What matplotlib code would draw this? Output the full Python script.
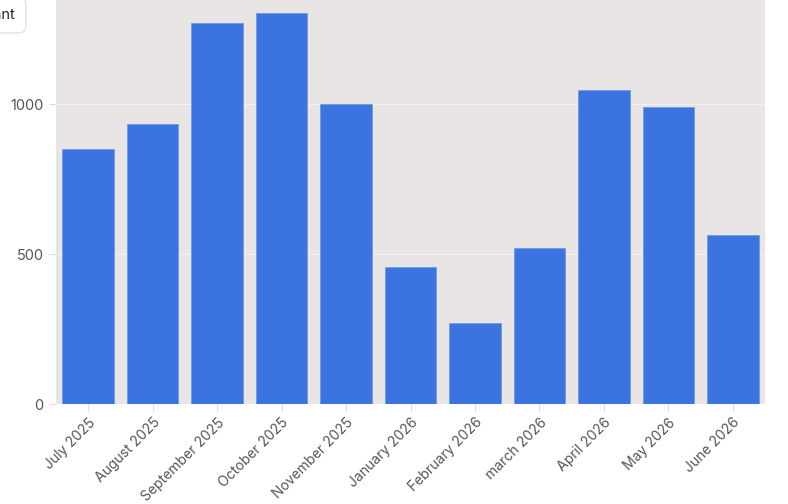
import matplotlib
matplotlib.use("Agg")
import matplotlib.pyplot as plt

months = ["July 2025", "August 2025", "September 2025", "October 2025", "November 2025",
          "January 2026", "February 2026", "march 2026", "April 2026", "May 2026", "June 2026"]
amounts = [850, 934, 1272, 1306, 1002, 458, 270, 520, 1048, 992, 565]
yticks = [0, 500, 1000]
legend_label = "Montant"

plt.rcParams['font.family'] = ['Inter', 'DejaVu Sans']

W, H = 788, 504
fig = plt.figure(figsize=(W / 100, H / 100), dpi=100)
left, right, bottom = 56 / W, 765 / W, (H - 404.3) / H
ax = fig.add_axes([left, bottom, right - left, 1 - bottom])
ax.set_facecolor("#e9e5e4")

x = range(len(months))
ax.bar(x, amounts, width=0.8, color="#3b74e0", edgecolor="#6e99ec", linewidth=0.6, zorder=2)
ax.set_xlim(-0.5, len(months) - 0.5)
ax.set_ylim(0, 404.3 / 0.3)
ax.set_yticks(yticks)
ax.set_yticklabels([str(v) for v in yticks])
ax.set_xticks(list(x))
ax.set_xticklabels(months, rotation=45, ha="right", rotation_mode="anchor")
ax.grid(axis="y", color="#f4f2f1", linewidth=0.8, zorder=1)
ax.set_axisbelow(True)
for s in ax.spines.values():
    s.set_visible(False)
ax.tick_params(axis="both", colors="#dcdcdc", labelcolor="#555555", labelsize=10, length=5, width=0.8)
ax.tick_params(axis="y", labelsize=10.5, pad=4)
ax.tick_params(axis="x", pad=3)

# legend box, partly cut off at the top-left
fig.text(15 / W, 1 - 15 / H, legend_label, ha="right", va="center", fontsize=10.5, color="#222222",
         bbox=dict(boxstyle="round,pad=0.75,rounding_size=0.5", facecolor="white",
                   edgecolor="#dde2ee", linewidth=1))

fig.savefig("out.png", dpi=100)
